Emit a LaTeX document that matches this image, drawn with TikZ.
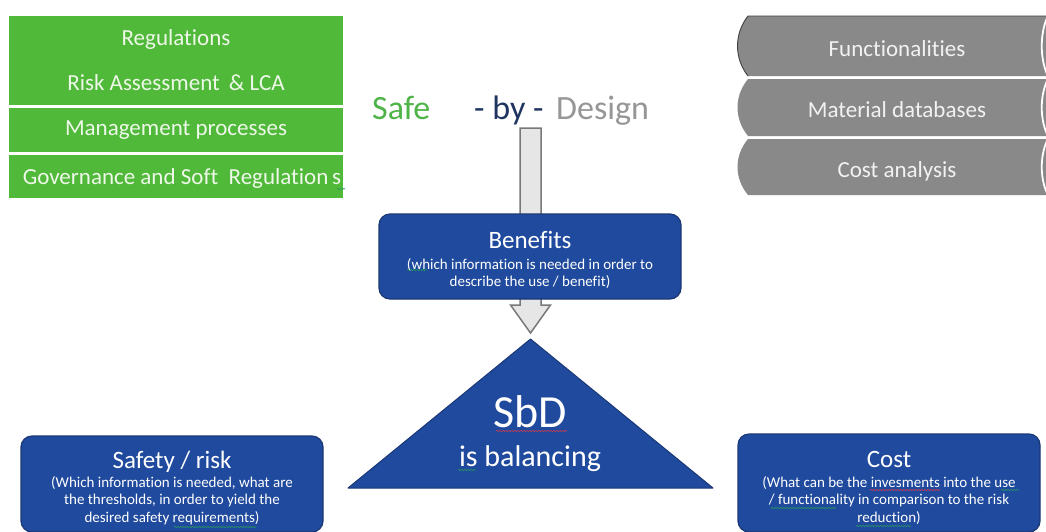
\documentclass[tikz,border=0pt]{standalone}
\usepackage{fontspec}
\setmainfont{Carlito}[Ligatures=NoCommon]
\usetikzlibrary{positioning,decorations.pathmorphing}

\definecolor{regreen}{RGB}{80,185,58}
\definecolor{greentext}{RGB}{238,248,232}
\definecolor{safegreen}{RGB}{78,180,72}
\definecolor{bynavy}{RGB}{31,52,96}
\definecolor{designgray}{RGB}{150,150,150}
\definecolor{dbgray}{RGB}{137,137,137}
\definecolor{dbtext}{RGB}{242,242,242}
\definecolor{sbdblue}{RGB}{32,74,157}
\definecolor{sbdborder}{RGB}{26,56,118}
\definecolor{arrowfill}{RGB}{230,230,230}
\definecolor{arrowline}{RGB}{120,120,120}
\definecolor{spellred}{RGB}{200,60,80}
\definecolor{spellgreen}{RGB}{40,150,95}

\begin{document}
\begin{tikzpicture}[x=1pt,y=-1pt]
  \def\boxwidth{302pt}
  \def\bigfont{\fontsize{23}{28}\selectfont}
  \def\headfont{\fontsize{25}{30}\selectfont}
  \def\smallfont{\fontsize{15}{17.5}\selectfont}
  \tikzstyle{greenbox} = [rectangle, fill=regreen, text=greentext, inner sep=0pt, minimum width=334pt, font=\bigfont, align=center]
  \tikzstyle{dblabel} = [text=dbtext, font=\bigfont, anchor=base, inner sep=0pt]
  \tikzstyle{bluebox} = [rectangle, rounded corners=11pt, draw=sbdborder, line width=1.2pt, fill=sbdblue, minimum width=\boxwidth, inner sep=0pt]
  \tikzstyle{headtext} = [text=white, font=\headfont, anchor=base, inner sep=0pt]
  \tikzstyle{subtext} = [text=white, font=\smallfont, align=center, inner sep=0pt]
  \tikzstyle{title} = [font=\fontsize{34}{40}\selectfont, anchor=base west, inner sep=0pt]
  \tikzstyle{squiggle} = [decorate, decoration={snake, amplitude=0.7pt, segment length=3pt}, line width=0.6pt]

  \clip (0,0) rectangle (1046,531);
  \fill[white] (0,0) rectangle (1046,531);

  % left column
  \node[greenbox, minimum height=89pt] (reg) at (176,60.5) {Regulations\\[17pt]Risk Assessment \,\& LCA};
  \node[greenbox, minimum height=44pt] (mgmt) at (176,130) {Management processes};
  \node[greenbox, minimum height=43pt] (gov) at (176,176.5) {};
  \node[text=greentext, font=\bigfont, anchor=base, inner sep=0pt] (govtext) at (182,184) {Governance and Soft \ Regulation\,s};
  \draw[spellgreen, squiggle] (337,189) -- (345,189);

  % right column
  \foreach \top/\bot/\txt/\name in {16/76/Functionalities/func, 79/136/Material databases/matdb, 139/195/Cost analysis/costan} {
    \fill[dbgray] (748,\top) .. controls (734,{\top+0.3*(\bot-\top)}) and (734,{\top+0.7*(\bot-\top)}) .. (748,\bot)
      -- (1050,\bot) -- (1050,\top) -- cycle;
    \draw[white, line width=1.8pt] (1047,\top+2) .. controls (1040,{\top+0.3*(\bot-\top)}) and (1040,{\top+0.7*(\bot-\top)}) .. (1047,\bot-2);
    \node[dblabel] (\name) at (897,{0.5*(\top+\bot)+10}) {\txt};
  }
  \draw[black!75, line width=0.9pt] (1046,16) -- (748,16) .. controls (734,34) and (734,58) .. (748,76);

  % title
  \node[title, text=safegreen] (safe) at (372,119) {Safe};
  \node[title, text=bynavy] (by) at (474,119) {- by -};
  \node[title, text=designgray] (design) at (556,119) {Design};

  % arrow behind the benefits box
  \draw[fill=arrowfill, draw=arrowline, line width=1.5pt, line join=miter]
    (520,128) -- (541,128) -- (541,305) -- (550.5,305) -- (530.5,333) -- (510.5,305) -- (520,305) -- cycle;

  \node[bluebox, minimum height=85pt] (benefits) at (530,256.5) {};
  \node[headtext] (benhead) at (530,248) {Benefits};
  \node[subtext] (bensub) at (530,273.5) {(which information is needed in order to\\ describe the use / benefit)};
  \draw[spellgreen, squiggle] (407,270) -- (427,270);

  % balance
  \coordinate (apex) at (530.5,339);
  \coordinate (baseL) at (348,488);
  \coordinate (baseR) at (713,488);
  \draw[fill=sbdblue, draw=sbdborder, line width=1pt, line join=round] (apex) -- (baseR) -- (baseL) -- cycle;
  \node[text=white, font=\fontsize{46}{50}\selectfont, anchor=base, inner sep=0pt] (sbd) at (530,427) {SbD};
  \node[text=white, font=\fontsize{30}{34}\selectfont, anchor=base, inner sep=0pt] (bal) at (530,466) {is balancing};
  \draw[spellred, squiggle] (496,431) -- (567,431);
  \draw[spellgreen, squiggle] (458,470) -- (476,470);

  % bottom boxes
  \node[bluebox, minimum height=96pt] (safety) at (172,484) {};
  \node[headtext] (safehead) at (172,468) {Safety / risk};
  \node[subtext] (safesub) at (172,500.5) {(Which information is needed, what are\\ the thresholds, in order to yield the\\ desired safety requirements)};
  \draw[spellgreen, squiggle] (174,527) -- (256,527);

  \node[bluebox, minimum height=98pt] (cost) at (889,483) {};
  \node[headtext] (costhead) at (889,467) {Cost};
  \node[subtext] (costsub) at (889,500.5) {(What can be the invesments into the use\\ / functionality in comparison to the risk\\ reduction)};
  \draw[spellred, squiggle] (870,490) -- (940,490);
  \draw[spellgreen, squiggle] (1001,490) -- (1019,490);
  \draw[spellgreen, squiggle] (771,508) -- (836,508);
  \draw[spellgreen, squiggle] (856,526) -- (911,526);
\end{tikzpicture}
\end{document}
